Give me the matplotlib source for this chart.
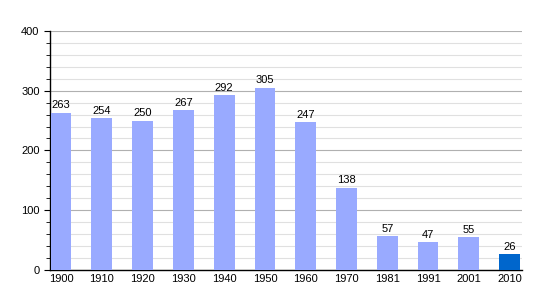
import matplotlib.pyplot as plt
from matplotlib.ticker import MultipleLocator

years = ['1900', '1910', '1920', '1930', '1940', '1950', '1960', '1970',
         '1981', '1991', '2001', '2010']
population = [263, 254, 250, 267, 292, 305, 247, 138, 57, 47, 55, 26]
colors = ['#99aaff'] * 11 + ['#0066cc']

plt.rcParams['font.family'] = ['Liberation Sans', 'DejaVu Sans']

fig = plt.figure(figsize=(5.5, 3), dpi=100)
ax = fig.add_axes([0.0909, 0.1, 0.858, 0.797])

x = range(len(years))
bars = ax.bar(x, population, width=0.51, color=colors, zorder=3)
for xi, v in zip(x, population):
    ax.text(xi, v + 4, str(v), ha='center', va='bottom', fontsize=8, zorder=4)

ax.set_xlim(-0.27, 11.3)
ax.set_ylim(0, 400)
ax.set_xticks(list(x))
ax.set_xticklabels(years, fontsize=8)
ax.yaxis.set_major_locator(MultipleLocator(100))
ax.yaxis.set_minor_locator(MultipleLocator(20))
ax.tick_params(axis='y', labelsize=8, length=4, direction='out')
ax.tick_params(axis='y', which='minor', length=3)
ax.tick_params(axis='x', length=0, pad=3)
ax.grid(axis='y', which='major', color='#b0b0b0', linewidth=0.8, zorder=0)
ax.grid(axis='y', which='minor', color='#e0e0e0', linewidth=0.8, zorder=0)
for s in ['top', 'right']:
    ax.spines[s].set_visible(False)
ax.spines['left'].set_linewidth(1)
ax.spines['bottom'].set_linewidth(1)

fig.savefig('out.png')
